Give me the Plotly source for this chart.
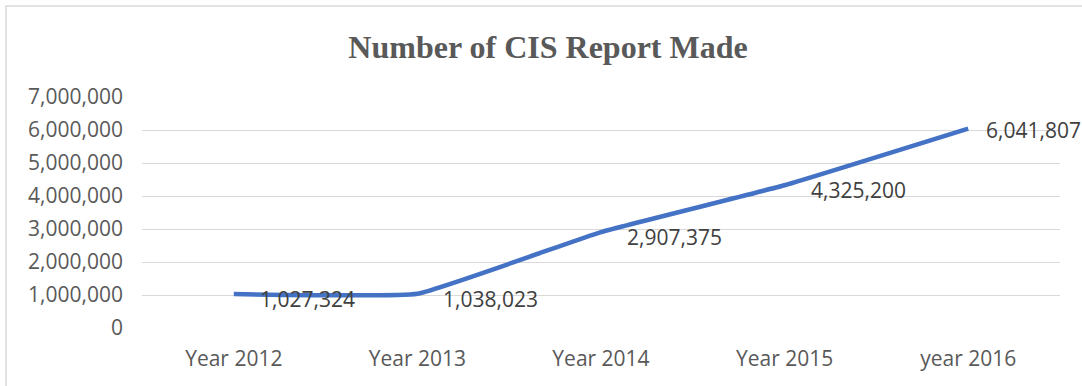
import plotly.graph_objects as go

# Yearly totals of CIS reports
years = ["Year 2012", "Year 2013", "Year 2014", "Year 2015", "year 2016"]
reports = [1027324, 1038023, 2907375, 4325200, 6041807]

# Y-axis ticks
y_ticks = [0, 1000000, 2000000, 3000000, 4000000, 5000000, 6000000, 7000000]
y_tick_text = [f"{v:,}" for v in y_ticks]

# Label offsets (pixels) for each point's value label
label_dx = [24, 24, 24, 24, 16]
label_dy = [-5, -5, -5, -5, -1]

W, H = 1082, 386
L, R, T, B = 142, 22, 97, 58

fig = go.Figure()
fig.add_trace(go.Scatter(
    x=years, y=reports, mode="lines",
    line=dict(color="#4472C4", width=4.5, shape="spline", smoothing=0.3),
    hoverinfo="skip", showlegend=False,
))

for x, y, dx, dy in zip(years, reports, label_dx, label_dy):
    fig.add_annotation(
        x=x, y=y, text=f"{y:,}", showarrow=False,
        xanchor="left", yanchor="middle", xshift=dx, yshift=dy,
        font=dict(family="Open Sans", size=21, color="#404040"),
    )

plot_w = W - L - R
plot_h = H - T - B
fig.add_shape(
    type="rect", xref="paper", yref="paper",
    x0=(6 - L) / plot_w, x1=(W + 10 - L) / plot_w,
    y0=-(B + 10) / plot_h, y1=(H - B - 6) / plot_h,
    line=dict(color="#D9D9D9", width=1.5), fillcolor="rgba(0,0,0,0)",
    layer="below",
)

fig.update_layout(
    width=W, height=H,
    margin=dict(l=L, r=R, t=T, b=B),
    paper_bgcolor="white", plot_bgcolor="white",
    title=dict(
        text="<b>Number of CIS Report Made</b>",
        x=(548) / W, xanchor="center", xref="container",
        y=1 - 47 / H, yanchor="middle", yref="container",
        font=dict(family="Liberation Serif", size=32, color="#595959"),
    ),
    xaxis=dict(
        type="category", range=[-0.5, len(years) - 0.5],
        showgrid=False, zeroline=False, showline=False,
        ticks="", ticklabelstandoff=16,
        tickfont=dict(family="Open Sans", size=21, color="#595959"),
    ),
    yaxis=dict(
        range=[0, 7000000], tickvals=y_ticks, ticktext=y_tick_text,
        showgrid=True, gridcolor="#D9D9D9", gridwidth=1.3,
        zeroline=False, showline=False, ticks="", ticklabelstandoff=18,
        tickfont=dict(family="Open Sans", size=21, color="#595959"),
    ),
)

fig.write_html("out.html")
